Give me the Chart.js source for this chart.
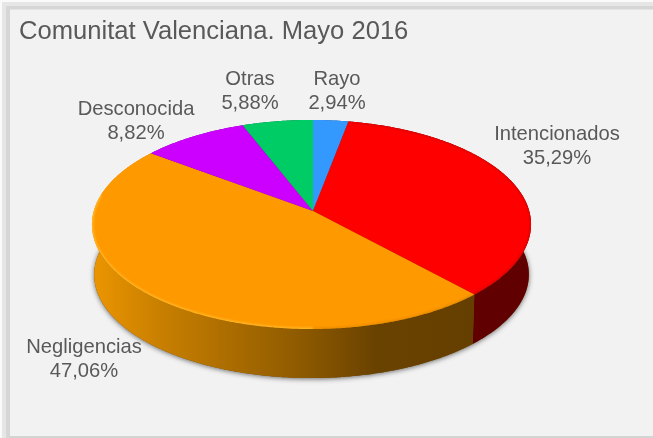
<!DOCTYPE html>
<html><head><meta charset="utf-8">
<style>html,body{margin:0;padding:0;background:#fff}#w{width:653px;height:438px}</style>
<script src="https://cdn.jsdelivr.net/npm/chart.js@4"></script></head>
<body><div id="w"><canvas id="c"></canvas></div>
<script>
const chartTitle = 'Comunitat Valenciana. Mayo 2016';
const categories = ['Rayo', 'Intencionados', 'Negligencias', 'Desconocida', 'Otras'];
const shares = [2.94, 35.29, 47.06, 8.82, 5.88];
const sliceColors = ['#3399ff', '#ff0000', '#ff9900', '#cc00ff', '#00cc66'];
const wallColors = ['#1a4d80', '#600000', null, '#660080', '#006633'];
const labelCentres = [[337, 79], [557, 134], [84, 347], [136, 109], [250, 79]];

const TEXT = '#595959', FONT = '"Liberation Sans", Arial, sans-serif';
const CX = 313, CY = 211, RX = 217.7, RY = 102.8, K = -0.129, J = 0.0068, DEPTH = 50.2, SCALE = 0.99;

function proj(a, low) {
  const X = Math.cos(a), Y = Math.sin(a), w = 1 + K * Y + J * X, s = low ? SCALE : 1;
  return [CX + RX * X * s / w, CY + (low ? DEPTH : 0) + RY * Y * s / w];
}
function arcPts(a0, a1, low) {
  const n = Math.max(2, Math.ceil(Math.abs(a1 - a0) / 0.008)), pts = [];
  for (let i = 0; i <= n; i++) pts.push(proj(a0 + (a1 - a0) * i / n, low));
  return pts;
}
function tracePts(ctx, pts, start) {
  pts.forEach((p, i) => (i === 0 && start) ? ctx.moveTo(p[0], p[1]) : ctx.lineTo(p[0], p[1]));
}

const pie3d = {
  id: 'pie3d',
  beforeDraw(chart) {
    const ctx = chart.ctx, W = chart.width, H = chart.height;
    ctx.save();
    ctx.fillStyle = '#fafafa'; ctx.fillRect(0, 0, W, H);
    ctx.fillStyle = '#e6e6e6'; ctx.fillRect(2, 2, W - 2, H - 2);
    ctx.fillStyle = '#d6d6d6'; ctx.fillRect(6, 6, W - 6, H - 6);
    ctx.fillStyle = '#f2f2f2'; ctx.fillRect(10, 9.5, W - 10, H - 11.5);
    ctx.fillStyle = '#d4d4d4'; ctx.fillRect(10, H - 2, W - 10, 2);
    ctx.restore();
  },
  beforeDatasetsDraw(chart) {
    const ctx = chart.ctx, arcs = chart.getDatasetMeta(0).data;
    ctx.save();
    ctx.save();
    ctx.shadowColor = 'rgba(60,60,60,0.75)'; ctx.shadowBlur = 5; ctx.shadowOffsetX = 0; ctx.shadowOffsetY = 1;
    ctx.fillStyle = '#7a4d00';
    ctx.beginPath(); tracePts(ctx, arcPts(0, Math.PI * 2, true), true); ctx.closePath(); ctx.fill();
    ctx.restore();
    const grad = ctx.createLinearGradient(92, 0, 475, 0);
    grad.addColorStop(0, '#ec9500'); grad.addColorStop(0.18, '#c87f00');
    grad.addColorStop(0.544, '#8e5a00'); grad.addColorStop(0.74, '#6a4200'); grad.addColorStop(1, '#653f00');
    arcs.forEach((el, i) => {
      const a0 = el.startAngle, a1 = el.endAngle;
      ctx.fillStyle = wallColors[i] || grad;
      ctx.beginPath();
      tracePts(ctx, arcPts(a0, a1, false), true);
      tracePts(ctx, arcPts(a1, a0, true), false);
      ctx.closePath(); ctx.fill();
    });
    arcs.forEach((el, i) => {
      ctx.fillStyle = sliceColors[i];
      ctx.beginPath(); ctx.moveTo(CX, CY);
      tracePts(ctx, arcPts(el.startAngle, el.endAngle, false), false);
      ctx.closePath(); ctx.fill();
    });
    ctx.save();
    ctx.beginPath(); tracePts(ctx, arcPts(0, Math.PI * 2, false), true); ctx.closePath(); ctx.clip();
    ctx.lineWidth = 2.5; ctx.filter = 'blur(0.8px)';
    arcs.forEach((el, i) => {
      if (i === 1) {
        ctx.strokeStyle = 'rgba(190,0,0,0.5)';
        ctx.beginPath(); tracePts(ctx, arcPts(el.startAngle, el.endAngle, false), true); ctx.stroke();
      } else if (i === 2) {
        ctx.strokeStyle = 'rgba(205,125,0,0.5)';
        ctx.beginPath(); tracePts(ctx, arcPts(el.startAngle, Math.PI * 0.5, false), true); ctx.stroke();
        ctx.strokeStyle = 'rgba(255,200,60,0.75)';
        ctx.beginPath(); tracePts(ctx, arcPts(Math.PI * 0.5, Math.PI * 1.05, false), true); ctx.stroke();
      }
    });
    ctx.restore();
    ctx.fillStyle = TEXT; ctx.font = '20.2px ' + FONT;
    ctx.textAlign = 'center'; ctx.textBaseline = 'middle';
    categories.forEach((name, i) => {
      const c = labelCentres[i];
      ctx.fillText(name, c[0], c[1]);
      ctx.fillText(shares[i].toFixed(2).replace('.', ',') + '%', c[0], c[1] + 24.5);
    });
    ctx.restore();
    return false;
  }
};

new Chart(document.getElementById('c'), {
  type: 'pie',
  data: { labels: categories, datasets: [{ data: shares, backgroundColor: sliceColors, borderWidth: 0 }] },
  options: {
    responsive: true, maintainAspectRatio: false, animation: false,
    layout: { padding: { left: 19, top: 17 } },
    plugins: {
      legend: { display: false }, tooltip: { enabled: false },
      title: { display: true, text: chartTitle, align: 'start', color: TEXT,
               font: { family: FONT, size: 25.6, weight: 'normal' }, padding: 0 }
    }
  },
  plugins: [pie3d]
});
</script></body></html>
